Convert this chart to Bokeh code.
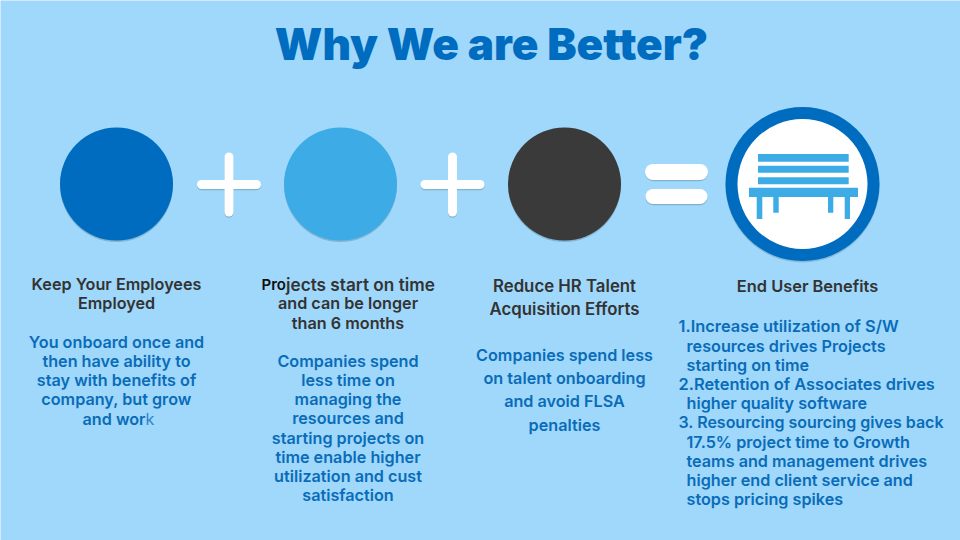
from bokeh.plotting import figure
from bokeh.models import Range1d
from bokeh.embed import file_html
from bokeh.resources import INLINE
from bokeh.core.properties import value

BG, BLUE, SKY, DARK, TITLEC = "#9fd8fb", "#006cbf", "#3dabe6", "#3a3a3a", "#006cbf"
HEAD = "#333333"
BODY = "#0a6cb8"

title = "Why We are Better?"
col1_head = ["Keep Your Employees", "Employed"]
col1_body = ["You onboard once and", "then have ability to", "stay with benefits of", "company, but grow"]
col2_head = ["and can be longer", "than 6 months"]
col2_body = ["Companies spend", "less time on", "managing the", "resources and", "starting projects on",
             "time enable higher", "utilization and cust", "satisfaction"]
col3_head = ["Reduce HR Talent", "Acquisition Efforts"]
col3_body = ["Companies spend less", "on talent onboarding", "and avoid FLSA", "penalties"]
col4_head = ["End User Benefits"]
col4_num = ["1.Increase utilization of S/W", "2.Retention of Associates drives", "3.  Resourcing sourcing gives back"]
col4_cont = ["resources drives Projects", "starting on time", "higher quality software",
             "17.5% project time to Growth", "teams and management drives",
             "higher end client service and", "stops pricing spikes"]

p = figure(width=960, height=540, output_backend="svg", toolbar_location=None,
           x_range=Range1d(0.5, 960.5), y_range=Range1d(540.5, 0.5), min_border=0,
           background_fill_color=BG, border_fill_color=BG, outline_line_color=None)
p.axis.visible = False
p.grid.visible = False

FONT = value("Inter SemiBold")
FS = "16.2px"

def txt(x, y, s, color, align="center", size=FS, font=FONT):
    p.text([x], [y - 1], text=[s], text_color=color, text_align=align, text_baseline="middle",
           text_font_size=size, text_font=font)

# shadows and circles
for cx, cy, r, col in [(116.5, 184, 56.5, BLUE), (340.5, 184, 56.5, SKY), (564.5, 184, 56.5, DARK)]:
    p.circle([cx], [cy + 1.5], radius=r, fill_color="#4a6f88", fill_alpha=0.35, line_color=None)
    p.circle([cx], [cy], radius=r, fill_color=col, line_color=None)
p.circle([802.5], [185.5], radius=77, fill_color="#4a6f88", fill_alpha=0.3, line_color=None)
p.circle([802.5], [184], radius=77, fill_color=BLUE, line_color=None)
p.circle([802.5], [184], radius=65, fill_color="white", line_color=None)

def cap(x0, x1, y0, y1, w):
    p.line([x0, x1], [y0 + 1.2, y1 + 1.2], line_width=w, line_color="#4a6f88", line_alpha=0.35, line_cap="round")

def bar(x0, x1, y0, y1, w):
    p.line([x0, x1], [y0, y1], line_width=w, line_color="white", line_cap="round")

for cx in (229, 452.5):
    cap(cx - 27.5, cx + 27.5, 184.5, 184.5, 9)
    cap(cx, cx, 157, 212, 9)
    bar(cx - 27.5, cx + 27.5, 184.5, 184.5, 9)
    bar(cx, cx, 157, 212, 9)
for y, w in [(172, 16), (196.5, 15)]:
    cap(653, 700, y, y, w)
    bar(653, 700, y, y, w)

# bench
slat_top = [154, 165.7, 177.3]
slat_bot = [161.7, 172.7, 184.3]
p.quad(left=[758] * 3, right=[848.7] * 3, top=slat_top, bottom=slat_bot, fill_color=SKY, line_color=None)
p.quad(left=[749], right=[858], top=[187.7], bottom=[197], fill_color=SKY, line_color=None)
p.quad(left=[756.7, 844.7, 773.3, 828], right=[762.3, 850, 778.7, 833.3],
       top=[197] * 4, bottom=[219, 219, 212.7, 212.7], fill_color=SKY, line_color=None)

# title
txt(491.5, 44.5, title, TITLEC, size="44px", font=value("Inter Black"))

# column 1
for y, s in zip([285, 303.5], col1_head):
    txt(116.5, y, s, HEAD)
for y, s in zip([342.5, 361.5, 380.5, 400], col1_body):
    txt(116.5, y, s, BODY)
txt(145.5, 419.5, "and wor", BODY, "right")
txt(145.5, 419.5, "k", "#2f86c9", "left", font=value("Inter"))

# column 2
txt(286, 285, "Pro", "#0d0d0d", "right", size="15px")
txt(286, 285, "jects start on time", HEAD, "left", size="17.2px")
for y, s in zip([304, 323.5], col2_head):
    txt(348, y, s, HEAD)
for y, s in zip([361.5, 380.5, 400, 419, 439, 457.5, 477, 495.5], col2_body):
    txt(348, y, s, BODY)

# column 3
for y, s in zip([287, 310], col3_head):
    txt(564.5, y, s, HEAD, size="16.8px")
for y, s in zip([356, 379, 402, 425.5], col3_body):
    txt(564.5, y, s, BODY)

# column 4
txt(807.5, 287, col4_head[0], HEAD, size="16.4px")
for y, s, fs in zip([327, 385, 423], col4_num, ["16.4px", "16.4px", "16px"]):
    txt(678.5, y, s, BODY, "left", size=fs)
for y, s in zip([347, 366, 404, 443, 462, 481, 500], col4_cont):
    txt(686.5, y, s, BODY, "left")

open("out.html", "w").write(file_html(p, INLINE))
